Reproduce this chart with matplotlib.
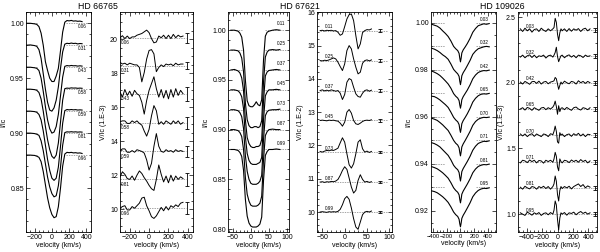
import numpy as np
import matplotlib
matplotlib.use("Agg")
import matplotlib.pyplot as plt
from matplotlib.ticker import MultipleLocator, FormatStrFormatter

plt.rcParams['font.family'] = ['Liberation Sans', 'DejaVu Sans']

# ---------------- HD 66765 ----------------
v1 = [-300, -250, -200, -175, -150, -125, -100, -75, -50, -25, 0, 25, 50, 75,
      100, 125, 150, 175, 200, 225, 250, 275, 300, 325, 350]
phase1 = ["0.06", "0.31", "0.43", "0.58", "0.59", "0.81", "0.96"]
cont1 = [1.00, 0.98, 0.96, 0.94, 0.92, 0.90, 0.88]
I1 = [
    [0.0, 0.0, -0.0005, -0.001, -0.003, -0.009, -0.02, -0.035, -0.043, -0.05, -0.053, -0.053, -0.048, -0.041, -0.025, -0.008, 0.001, 0.0025, 0.0022, 0.0026, 0.002, 0.0022, 0.0018, 0.002, 0.0015],
    [0.0, 0.0003, -0.0003, -0.001, -0.004, -0.012, -0.026, -0.040, -0.052, -0.059, -0.060, -0.057, -0.050, -0.038, -0.021, -0.006, 0.001, 0.0018, 0.0015, 0.002, 0.0016, 0.0018, 0.0012, 0.0016, 0.0014],
    [0.0, 0.0, -0.0005, -0.001, -0.003, -0.010, -0.022, -0.036, -0.048, -0.056, -0.060, -0.059, -0.054, -0.043, -0.026, -0.009, 0.0008, 0.0015, 0.0012, 0.0016, 0.0013, 0.0014, 0.001, 0.0013, 0.001],
    [0.0, 0.0, -0.0004, -0.001, -0.003, -0.009, -0.020, -0.034, -0.046, -0.055, -0.061, -0.063, -0.060, -0.049, -0.030, -0.010, 0.0005, 0.001, 0.0008, 0.0012, 0.001, 0.0011, 0.0008, 0.001, 0.0008],
    [0.0, 0.0, -0.0004, -0.001, -0.003, -0.008, -0.018, -0.031, -0.044, -0.054, -0.061, -0.063, -0.061, -0.051, -0.032, -0.011, 0.0005, 0.0015, 0.0012, 0.0015, 0.0012, 0.0014, 0.001, 0.0012, 0.001],
    [0.0, 0.0, -0.0004, -0.001, -0.002, -0.007, -0.016, -0.028, -0.040, -0.049, -0.055, -0.058, -0.057, -0.048, -0.031, -0.011, 0.0005, 0.0012, 0.001, 0.0013, 0.001, 0.0012, 0.0009, 0.0011, 0.0009],
    [0.0, 0.0, -0.0003, -0.001, -0.002, -0.006, -0.015, -0.027, -0.039, -0.048, -0.054, -0.057, -0.056, -0.047, -0.030, -0.010, 0.001, 0.0025, 0.0022, 0.0025, 0.002, 0.0022, 0.0018, 0.002, 0.0015],
]

v2 = [-300, -275, -250, -225, -200, -175, -150, -125, -100, -75, -50, -25, 0, 25,
      50, 75, 100, 125, 150, 175, 200, 225, 250, 275, 300, 325, 350]
base2 = [20.1, 18.45, 16.8, 15.1, 13.4, 11.75, 10.05]
err2 = [0.3, 0.2, 0.4, 0.35, 0.3, 0.4, 0.35]
V2 = [
    [0.0, 0.12, -0.05, 0.1, -0.05, 0.05, 0.05, 0.15, 0.2, 0.25, 0.35, 0.45, 0.3, -0.05, -0.3, -0.25, 0.1, 0.0, 0.15, -0.05, 0.15, -0.05, 0.2, 0.0, 0.15, 0.05, 0.1],
    [0.2, 0.1, 0.15, 0.05, 0.15, 0.1, 0.05, 0.05, -0.1, -0.95, -0.4, 0.4, 0.9, 0.95, 0.7, -0.35, -0.1, 0.05, -0.05, 0.1, 0.05, 0.1, 0.0, 0.15, 0.05, 0.1, 0.1],
    [0.1, -0.2, 0.25, -0.1, 0.15, -0.15, 0.2, 0.0, -0.1, -0.5, -1.2, -0.4, 0.2, 0.6, 1.0, 0.3, -0.2, 0.25, -0.25, 0.2, -0.3, 0.25, -0.2, 0.3, -0.1, 0.2, 0.0],
    [0.05, 0.1, 0.1, -0.05, -0.05, 0.1, 0.0, 0.1, -0.05, -0.15, -0.5, -0.8, -0.4, 0.4, 1.0, 0.7, -0.1, 0.05, -0.1, 0.1, 0.0, -0.1, 0.1, -0.05, 0.1, -0.1, 0.0],
    [0.05, 0.15, 0.15, -0.05, -0.05, 0.05, -0.05, 0.1, 0.05, 0.0, -0.1, -0.5, -1.1, -0.7, 0.3, 1.05, 0.3, 0.0, -0.05, 0.1, 0.0, 0.05, -0.05, 0.1, 0.0, 0.05, 0.0],
    [0.15, 0.45, 0.3, 0.05, 0.0, 0.2, -0.05, 0.25, 0.5, 0.35, 0.1, -0.1, -0.35, -0.55, -0.65, 0.0, 0.85, 0.3, -0.15, 0.2, -0.2, 0.25, -0.1, 0.2, 0.0, 0.15, 0.05],
    [0.0, 0.1, 0.15, -0.1, -0.1, 0.1, 0.0, 0.15, 0.3, 0.6, 0.65, 0.15, -0.15, -0.5, -0.6, -0.45, -0.2, 0.05, -0.15, 0.1, -0.1, 0.15, 0.05, 0.2, 0.1, 0.3, 0.35],
]

# ---------------- HD 67621 ----------------
v3 = [-55, -45, -35, -30, -25, -20, -15, -10, -5, 0, 5, 10, 15, 20, 25, 30, 35,
      40, 45, 50, 60, 70, 80]
phase3 = ["0.11", "0.25", "0.37", "0.45", "0.73", "0.87", "0.99"]
cont3 = [1.00, 0.98, 0.96, 0.94, 0.92, 0.90, 0.88]
I3 = [
    [0.0, 0.0, -0.001, -0.003, -0.007, -0.02, -0.05, -0.071, -0.076, -0.077, -0.077, -0.075, -0.072, -0.075, -0.076, -0.07, -0.03, -0.006, -0.002, -0.001, 0.0, 0.0005, 0.0],
    [0.0, 0.0, -0.0008, -0.003, -0.008, -0.022, -0.053, -0.07, -0.076, -0.078, -0.078, -0.077, -0.077, -0.078, -0.077, -0.071, -0.032, -0.007, -0.002, 0.0, 0.0005, 0.0, 0.0005],
    [0.0, 0.0005, -0.001, -0.003, -0.008, -0.021, -0.05, -0.068, -0.074, -0.077, -0.078, -0.078, -0.077, -0.077, -0.076, -0.07, -0.031, -0.006, -0.002, -0.0005, 0.0, 0.0005, 0.0],
    [0.0, 0.0, -0.001, -0.003, -0.007, -0.019, -0.047, -0.064, -0.071, -0.074, -0.075, -0.075, -0.075, -0.074, -0.073, -0.068, -0.03, -0.006, -0.002, 0.0, 0.0, 0.0005, 0.0],
    [0.0, 0.0, -0.001, -0.003, -0.007, -0.019, -0.046, -0.062, -0.07, -0.074, -0.075, -0.075, -0.075, -0.074, -0.072, -0.066, -0.03, -0.006, -0.002, -0.0005, 0.0, 0.0, 0.0005],
    [0.0, 0.0, -0.001, -0.003, -0.007, -0.02, -0.048, -0.065, -0.072, -0.076, -0.077, -0.077, -0.077, -0.076, -0.074, -0.067, -0.03, -0.006, -0.002, 0.0, 0.0005, 0.0, 0.0],
    [0.0, 0.0, -0.001, -0.003, -0.007, -0.021, -0.05, -0.067, -0.074, -0.077, -0.078, -0.078, -0.078, -0.077, -0.075, -0.068, -0.031, -0.006, -0.002, 0.0, 0.0, 0.0005, 0.0],
]

v4 = [-55, -50, -45, -40, -35, -30, -25, -20, -15, -10, -5, 0, 5, 10, 15, 20, 25,
      30, 35, 40, 45, 50, 55, 60]
base4 = [15.45, 14.55, 13.65, 12.75, 11.8, 10.9, 10.0]
V4 = [
    [0.0, 0.01, -0.01, 0.01, 0.0, 0.01, -0.01, 0.0, -0.05, -0.14, -0.1, 0.12, 0.35, 0.48, 0.5, 0.3, -0.15, -0.55, -0.4, -0.06, 0.0, 0.03, 0.02, 0.05],
    [0.0, -0.01, 0.01, 0.0, 0.02, 0.05, 0.08, 0.05, -0.05, -0.18, -0.3, -0.1, 0.3, 0.45, 0.35, 0.05, -0.2, -0.4, -0.35, -0.08, 0.0, 0.02, -0.01, 0.02],
    [0.0, 0.02, -0.01, 0.01, -0.01, 0.02, 0.0, -0.02, 0.0, -0.08, -0.27, -0.12, 0.25, 0.36, 0.32, 0.1, -0.1, -0.18, -0.2, -0.08, 0.0, 0.02, -0.02, 0.01],
    [0.0, 0.01, 0.0, -0.01, 0.01, 0.0, 0.01, -0.01, -0.02, -0.08, -0.17, -0.05, 0.25, 0.33, 0.22, 0.0, -0.1, -0.12, -0.08, -0.03, 0.0, 0.01, 0.0, 0.02],
    [0.02, 0.0, 0.03, 0.05, 0.04, 0.06, 0.05, 0.08, 0.12, 0.28, 0.43, 0.3, -0.05, -0.38, -0.48, -0.35, -0.05, 0.3, 0.37, 0.1, 0.0, 0.03, -0.01, 0.02],
    [0.0, 0.01, -0.01, 0.01, 0.0, 0.02, 0.01, 0.03, 0.08, 0.2, 0.35, 0.46, 0.38, 0.12, -0.15, -0.33, -0.25, 0.05, 0.22, 0.08, 0.0, 0.02, -0.01, 0.01],
    [0.0, 0.01, 0.0, -0.01, 0.01, 0.0, 0.01, 0.0, 0.02, 0.08, 0.22, 0.4, 0.47, 0.38, 0.12, -0.2, -0.45, -0.52, -0.3, -0.08, 0.0, 0.02, 0.0, 0.03],
]

# ---------------- HD 109026 ----------------
v5 = [-420, -380, -340, -300, -260, -220, -180, -140, -100, -70, -40, -20, -10,
      0, 10, 20, 40, 70, 100, 140, 180, 220, 260, 300, 340, 380, 420]
phase5 = ["0.03", "0.32", "0.42", "0.65", "0.70", "0.71", "0.81", "0.95"]
cont5 = [1.00, 0.99, 0.98, 0.97, 0.96, 0.95, 0.94, 0.93]
I5 = [
    [-0.0006, -0.0010, -0.0014, -0.0022, -0.0034, -0.0045, -0.0058, -0.0077, -0.0100, -0.0110, -0.0118, -0.0130, -0.0150, -0.0166, -0.0150, -0.0128, -0.0115, -0.0102, -0.0088, -0.0066, -0.0040, -0.0024, -0.0012, -0.0008, -0.0004, -0.0006, -0.0003],
    [-0.0008, -0.0012, -0.0018, -0.0026, -0.0036, -0.0044, -0.0055, -0.0075, -0.0098, -0.0108, -0.0117, -0.0128, -0.0148, -0.0163, -0.0146, -0.0125, -0.0112, -0.0098, -0.0082, -0.0060, -0.0034, -0.0020, -0.0010, -0.0006, -0.0002, 0.0000, -0.0002],
    [-0.0005, -0.0010, -0.0016, -0.0024, -0.0035, -0.0047, -0.0060, -0.0078, -0.0101, -0.0112, -0.0120, -0.0131, -0.0149, -0.0163, -0.0148, -0.0127, -0.0114, -0.0100, -0.0086, -0.0064, -0.0038, -0.0022, -0.0011, -0.0006, -0.0003, -0.0004, -0.0001],
    [-0.0012, -0.0014, -0.0020, -0.0028, -0.0038, -0.0048, -0.0060, -0.0080, -0.0102, -0.0113, -0.0121, -0.0133, -0.0152, -0.0166, -0.0150, -0.0129, -0.0116, -0.0102, -0.0087, -0.0064, -0.0037, -0.0021, -0.0010, -0.0004, -0.0002, -0.0003, 0.0000],
    [-0.0006, -0.0010, -0.0015, -0.0024, -0.0034, -0.0046, -0.0058, -0.0078, -0.0100, -0.0112, -0.0120, -0.0132, -0.0151, -0.0166, -0.0149, -0.0128, -0.0115, -0.0100, -0.0084, -0.0062, -0.0036, -0.0020, -0.0010, -0.0005, -0.0002, -0.0003, -0.0001],
    [-0.0010, -0.0014, -0.0020, -0.0028, -0.0040, -0.0052, -0.0064, -0.0083, -0.0106, -0.0117, -0.0125, -0.0137, -0.0157, -0.0173, -0.0155, -0.0133, -0.0120, -0.0105, -0.0090, -0.0068, -0.0042, -0.0025, -0.0013, -0.0008, -0.0004, -0.0005, -0.0002],
    [-0.0012, -0.0016, -0.0021, -0.0029, -0.0038, -0.0049, -0.0061, -0.0080, -0.0102, -0.0113, -0.0121, -0.0132, -0.0151, -0.0166, -0.0150, -0.0129, -0.0116, -0.0101, -0.0086, -0.0064, -0.0038, -0.0022, -0.0011, -0.0006, -0.0003, -0.0004, -0.0001],
    [-0.0015, -0.0018, -0.0023, -0.0031, -0.0040, -0.0051, -0.0064, -0.0083, -0.0105, -0.0116, -0.0124, -0.0136, -0.0155, -0.0168, -0.0152, -0.0132, -0.0119, -0.0104, -0.0088, -0.0066, -0.0040, -0.0024, -0.0013, -0.0007, -0.0004, -0.0005, -0.0002],
]

v6 = [-480, -450, -420, -390, -360, -330, -300, -270, -240, -210, -180, -150,
      -120, -90, -60, -45, -30, -15, 0, 15, 30, 45, 60, 90, 120, 150, 180, 210,
      240, 270, 300, 330, 360, 390, 420]
base6 = [2.4, 2.2, 2.0, 1.8, 1.6, 1.4, 1.2, 1.0]
V6 = [
    [0.01, -0.01, 0.015, -0.005, 0.01, -0.015, 0.005, 0.01, -0.01, 0.015, 0.0, -0.01, 0.01, -0.005, 0.01, 0.02, 0.09, 0.06, -0.03, -0.08, -0.02, 0.01, -0.005, 0.01, -0.01, 0.012, -0.008, 0.01, 0.0, 0.012, -0.01, 0.008, 0.015, -0.005, 0.01],
    [-0.005, 0.01, -0.01, 0.005, 0.012, -0.008, 0.01, -0.01, 0.005, 0.0, 0.01, -0.012, 0.005, 0.01, -0.005, 0.01, 0.03, 0.07, 0.0, -0.04, -0.015, 0.005, 0.01, -0.01, 0.005, 0.012, -0.005, 0.008, -0.01, 0.01, 0.005, -0.008, 0.01, 0.0, 0.005],
    [0.005, -0.01, 0.01, 0.0, -0.012, 0.008, 0.01, -0.005, 0.012, -0.01, 0.005, 0.01, -0.008, 0.005, 0.01, 0.015, 0.04, 0.03, -0.01, -0.05, -0.02, 0.005, -0.01, 0.012, 0.0, -0.008, 0.01, 0.005, -0.01, 0.015, 0.0, 0.01, -0.005, 0.01, 0.0],
    [0.0, 0.01, -0.008, 0.012, 0.005, -0.01, 0.01, 0.0, -0.01, 0.008, 0.012, -0.005, 0.01, 0.0, 0.015, 0.03, 0.06, 0.02, -0.04, 0.025, -0.02, 0.005, 0.01, -0.005, 0.012, 0.0, -0.01, 0.01, 0.015, 0.0, -0.008, 0.01, 0.005, -0.005, 0.01],
    [0.01, -0.005, 0.01, -0.01, 0.005, 0.012, -0.008, 0.01, 0.0, -0.01, 0.01, 0.005, -0.01, 0.012, 0.005, 0.03, 0.07, 0.03, -0.05, -0.06, 0.02, 0.0, 0.01, -0.01, 0.005, 0.01, -0.008, 0.012, 0.0, 0.015, -0.005, 0.01, -0.01, 0.008, 0.005],
    [-0.01, 0.01, 0.005, -0.008, 0.012, 0.0, 0.01, -0.01, 0.008, 0.005, -0.012, 0.01, 0.0, 0.01, -0.005, 0.02, 0.07, 0.04, -0.04, -0.07, 0.02, 0.0, -0.01, 0.01, 0.005, -0.008, 0.012, 0.0, 0.01, -0.005, 0.015, 0.0, 0.01, -0.01, 0.005],
    [0.005, -0.01, 0.012, 0.0, -0.008, 0.01, 0.005, -0.01, 0.01, 0.0, 0.012, -0.005, 0.01, -0.01, 0.01, 0.03, 0.09, 0.05, -0.05, -0.1, -0.02, 0.01, -0.005, 0.01, 0.0, 0.012, -0.008, 0.01, 0.02, 0.03, 0.01, 0.025, 0.0, 0.015, 0.005],
    [0.01, 0.0, -0.01, 0.015, 0.005, -0.008, 0.01, 0.0, 0.012, -0.01, 0.005, 0.01, -0.005, 0.012, 0.0, 0.03, 0.1, 0.07, -0.04, -0.12, -0.03, 0.01, 0.0, 0.012, -0.008, 0.01, 0.005, 0.015, -0.005, 0.01, 0.02, 0.005, 0.015, 0.0, 0.01],
]

W, H = 600, 252
fig = plt.figure(figsize=(W / 100, H / 100), dpi=100)


def panel(l, r, t=12.3, b=232):
    ax = fig.add_axes([l / W, 1 - b / H, (r - l) / W, (b - t) / H])
    ax.tick_params(which='both', direction='in', top=True, right=True,
                   width=0.5, labelsize=5, pad=1.5)
    ax.tick_params(which='major', length=3)
    ax.tick_params(which='minor', length=1.5)
    for s in ax.spines.values():
        s.set_linewidth(0.6)
    ax.set_xlabel("velocity (km/s)", fontsize=5, labelpad=0.5)
    return ax


def stokes_i(ax, v, conts, profs, phases, left, right, lx, dy, ha, va):
    for c, p, ph in zip(conts, profs, phases):
        ax.plot(left, [c, c], ls='--', color='0.5', lw=0.5, dashes=(2, 1.5))
        ax.plot(right, [c, c], ls='--', color='0.5', lw=0.5, dashes=(2, 1.5))
        ax.plot(v, c + np.array(p), color='k', lw=0.8)
        ax.text(lx, c + dy, ph, fontsize=3.3, ha=ha, va=va)


def stokes_v(ax, v, bases, profs, phases, span, ex, errs, lx, dy, va):
    for c, p, e, ph in zip(bases, profs, errs, phases):
        ax.plot(span, [c, c], color='0.5', lw=0.5, dashes=(2, 1.5))
        ax.plot(v, c + np.array(p), color='k', lw=0.7)
        ax.errorbar(ex, c, yerr=e, color='k', lw=0.6, capsize=1.5, capthick=0.6)
        ax.text(lx, c + dy, ph, fontsize=3.3, ha='left', va=va)


# panel 1
ax = panel(26, 90.7)
stokes_i(ax, v1, cont1, I1, phase1, [-300, -160], [160, 410], 410, -0.0004, 'right', 'top')
ax.set_xlim(-300, 450)
ax.set_ylim(0.81, 1.01)
ax.xaxis.set_major_locator(MultipleLocator(200))
ax.xaxis.set_minor_locator(MultipleLocator(50))
ax.yaxis.set_major_locator(MultipleLocator(0.05))
ax.yaxis.set_minor_locator(MultipleLocator(0.01))
ax.yaxis.set_major_formatter(FormatStrFormatter('%.2f'))
ax.set_ylabel("I/Ic", fontsize=5, labelpad=2)

# panel 2
ax = panel(120, 192.7)
stokes_v(ax, v2, base2, V2, phase1, [-300, 385], 390, err2, -293, -0.15, 'top')
ax.set_xlim(-300, 450)
ax.set_ylim(8.65, 21.6)
ax.xaxis.set_major_locator(MultipleLocator(200))
ax.xaxis.set_minor_locator(MultipleLocator(50))
ax.yaxis.set_major_locator(MultipleLocator(2))
ax.yaxis.set_minor_locator(MultipleLocator(0.5))
ax.set_ylabel("V/Ic (1.E-3)", fontsize=5, labelpad=2)

# panel 3
ax = panel(228.3, 289.3)
stokes_i(ax, v3, cont3, I3, phase3, [-55, -25], [40, 96], 96, 0.004, 'right', 'bottom')
ax.set_xlim(-62, 106)
ax.set_ylim(0.797, 1.018)
ax.xaxis.set_major_locator(MultipleLocator(50))
ax.xaxis.set_minor_locator(MultipleLocator(10))
ax.yaxis.set_major_locator(MultipleLocator(0.05))
ax.yaxis.set_minor_locator(MultipleLocator(0.01))
ax.yaxis.set_major_formatter(FormatStrFormatter('%.2f'))
ax.set_ylabel("I/Ic", fontsize=5, labelpad=2)

# panel 4
ax = panel(317, 392)
stokes_v(ax, v4, base4, V4, phase3, [-55, 95], 79, [0.04] * 7, -45, 0.04, 'bottom')
ax.set_xlim(-62, 106)
ax.set_ylim(9.4, 16.0)
ax.xaxis.set_major_locator(MultipleLocator(50))
ax.xaxis.set_minor_locator(MultipleLocator(10))
ax.yaxis.set_major_locator(MultipleLocator(1))
ax.yaxis.set_minor_locator(MultipleLocator(0.2))
ax.set_ylabel("V/Ic (1.E-2)", fontsize=5, labelpad=2)

# panel 5
ax = panel(430.7, 495.7)
stokes_i(ax, v5, cont5, I5, phase5, [-400, -220], [220, 415], 415, 0.0005, 'right', 'bottom')
ax.set_xlim(-435, 515)
ax.set_ylim(0.911, 1.0045)
ax.xaxis.set_major_locator(MultipleLocator(200))
ax.xaxis.set_minor_locator(MultipleLocator(50))
ax.yaxis.set_major_locator(MultipleLocator(0.02))
ax.yaxis.set_minor_locator(MultipleLocator(0.005))
ax.yaxis.set_major_formatter(FormatStrFormatter('%.2f'))
ax.tick_params(axis='x', labelsize=4.2)
ax.set_ylabel("I/Ic", fontsize=5, labelpad=2)

# panel 6
ax = panel(518, 597)
stokes_v(ax, v6, base6, V6, phase5, [-480, 470], 480, [0.015] * 8, -404, 0.012, 'bottom')
ax.set_xlim(-510, 510)
ax.set_ylim(0.864, 2.536)
ax.xaxis.set_major_locator(MultipleLocator(200))
ax.xaxis.set_minor_locator(MultipleLocator(50))
ax.yaxis.set_major_locator(MultipleLocator(0.5))
ax.yaxis.set_minor_locator(MultipleLocator(0.1))
ax.yaxis.set_major_formatter(FormatStrFormatter('%.1f'))
ax.set_ylabel("V/Ic (1.E-3)", fontsize=5, labelpad=1)

fig.text(98 / W, 1 - 6.5 / H, "HD 66765", ha='center', va='center', fontsize=6.3)
fig.text(300 / W, 1 - 6.5 / H, "HD 67621", ha='center', va='center', fontsize=6.3)
fig.text(502 / W, 1 - 6.5 / H, "HD 109026", ha='center', va='center', fontsize=6.3)

fig.savefig("out.png", dpi=100)
